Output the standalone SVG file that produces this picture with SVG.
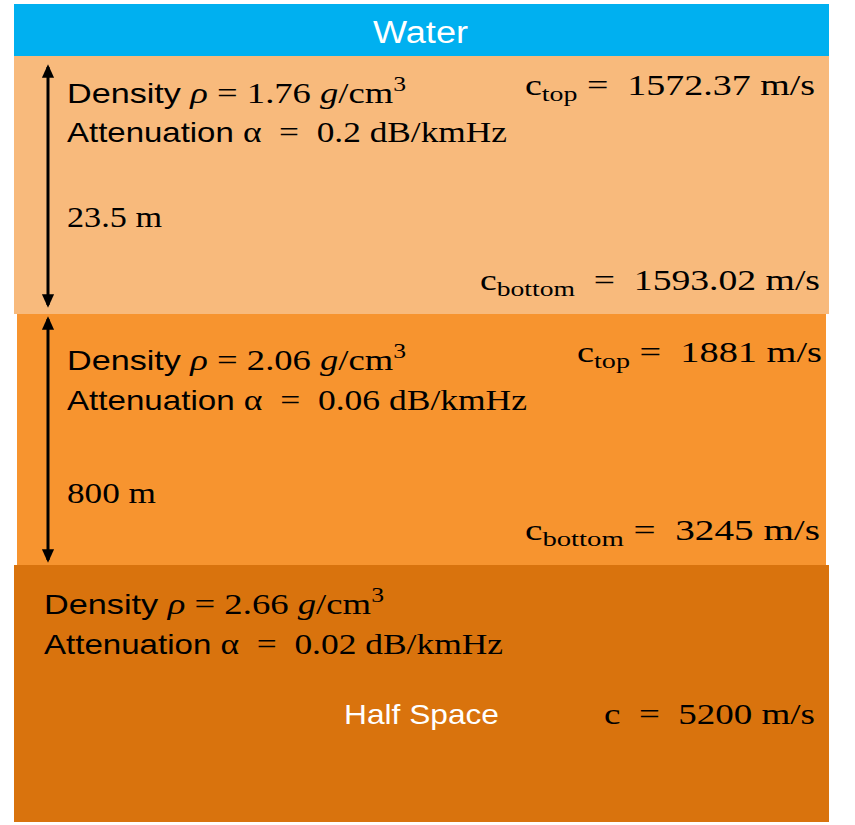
<svg xmlns="http://www.w3.org/2000/svg" width="855" height="825" viewBox="0 0 855 825">
<defs>
<style>
text{white-space:pre}
.s{font-family:"Liberation Sans","DejaVu Sans",sans-serif;font-size:28px;fill:#000}
.m{font-family:"Liberation Serif","DejaVu Serif",serif;font-size:30px;fill:#000}
.w{font-family:"Liberation Sans","DejaVu Sans",sans-serif;fill:#fff}
.sub{font-size:22px}
.it{font-style:italic}
.conn{stroke:#000;stroke-width:3;fill:none;marker-start:url(#ah);marker-end:url(#ah)}
</style>
<marker id="ah" viewBox="0 0 10 10" refX="8" refY="5" markerWidth="4.5" markerHeight="4.5" orient="auto-start-reverse" markerUnits="strokeWidth">
<path d="M0,0.5 L10,5 L0,9.5 z" fill="#000"/>
</marker>
</defs>
<rect width="855" height="825" fill="#fff"/>
<g id="water">
<rect x="14" y="4" width="815" height="52" fill="#00B0F0"/>
<text class="w" x="373" y="43" font-size="31" textLength="95" lengthAdjust="spacingAndGlyphs">Water</text>
</g>
<g id="layer1">
<rect x="14" y="56" width="815" height="258" fill="#F8BA7C"/>
<text x="67" y="103" textLength="339" lengthAdjust="spacingAndGlyphs"><tspan class="s">Density </tspan><tspan class="m"><tspan class="it">ρ</tspan> = 1.76 <tspan class="it">g</tspan>/cm<tspan font-size="21" dy="-12">3</tspan></tspan></text>
<text x="67" y="142" textLength="440" lengthAdjust="spacingAndGlyphs"><tspan class="s">Attenuation </tspan><tspan class="m">α  =  0.2 dB/kmHz</tspan></text>
<text class="m" x="67" y="227" font-size="32" textLength="95" lengthAdjust="spacingAndGlyphs">23.5 m</text>
<text x="525" y="95" textLength="290" lengthAdjust="spacingAndGlyphs" class="m">c<tspan class="sub" dy="6">top</tspan><tspan dy="-6"> =  1572.37 m/s</tspan></text>
<text x="480" y="290" textLength="340" lengthAdjust="spacingAndGlyphs" class="m">c<tspan class="sub" dy="6">bottom</tspan><tspan dy="-6">  =  1593.02 m/s</tspan></text>
</g>
<g id="layer2">
<rect x="17" y="314" width="809" height="251" fill="#F7942F"/>
<text x="67" y="370" textLength="339" lengthAdjust="spacingAndGlyphs"><tspan class="s">Density </tspan><tspan class="m"><tspan class="it">ρ</tspan> = 2.06 <tspan class="it">g</tspan>/cm<tspan font-size="21" dy="-12">3</tspan></tspan></text>
<text x="67" y="410" textLength="460" lengthAdjust="spacingAndGlyphs"><tspan class="s">Attenuation </tspan><tspan class="m">α  =  0.06 dB/kmHz</tspan></text>
<text class="m" x="67" y="503" font-size="32" textLength="89" lengthAdjust="spacingAndGlyphs">800 m</text>
<text x="577" y="362" textLength="245" lengthAdjust="spacingAndGlyphs" class="m">c<tspan class="sub" dy="6">top</tspan><tspan dy="-6"> =  1881 m/s</tspan></text>
<text x="525" y="540" textLength="295" lengthAdjust="spacingAndGlyphs" class="m">c<tspan class="sub" dy="6">bottom</tspan><tspan dy="-6"> =  3245 m/s</tspan></text>
</g>
<g id="halfspace">
<rect x="14" y="565" width="815" height="257" fill="#D9730D"/>
<text x="44" y="614" textLength="340" lengthAdjust="spacingAndGlyphs"><tspan class="s">Density </tspan><tspan class="m"><tspan class="it">ρ</tspan> = 2.66 <tspan class="it">g</tspan>/cm<tspan font-size="21" dy="-12">3</tspan></tspan></text>
<text x="44" y="654" textLength="459" lengthAdjust="spacingAndGlyphs"><tspan class="s">Attenuation </tspan><tspan class="m">α  =  0.02 dB/kmHz</tspan></text>
<text class="w" x="344" y="724" font-size="28" textLength="155" lengthAdjust="spacingAndGlyphs">Half Space</text>
<text x="604" y="724" textLength="211" lengthAdjust="spacingAndGlyphs" class="m">c  =  5200 m/s</text>
</g>
<g id="connectors">
<line class="conn" x1="48" y1="67" x2="48" y2="305"/>
<line class="conn" x1="48" y1="319" x2="48" y2="560"/>
</g>
</svg>
